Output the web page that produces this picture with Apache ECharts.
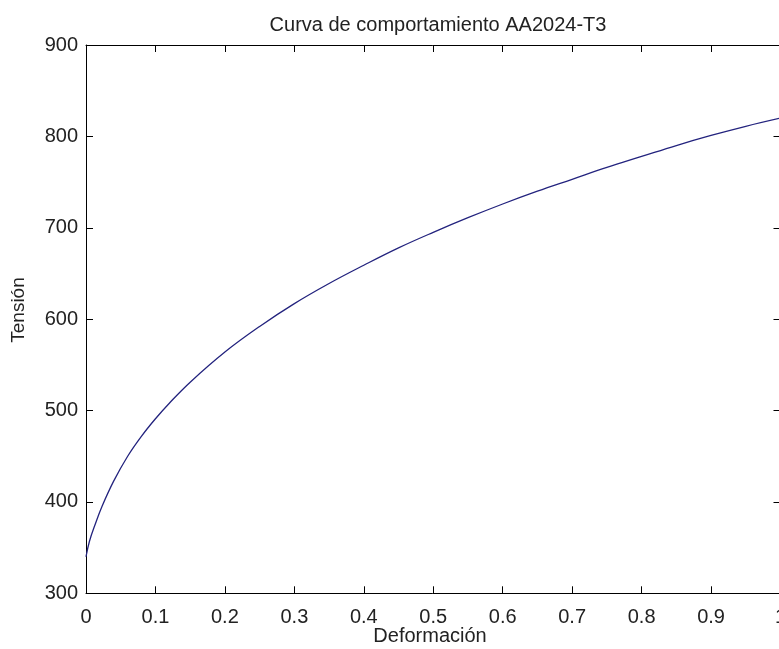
<!DOCTYPE html>
<html>
<head>
<meta charset="utf-8">
<script src="https://cdn.jsdelivr.net/npm/echarts@6/dist/echarts.min.js"></script>
<style>
html,body{margin:0;padding:0;background:#fff;}
#chart{width:779px;height:649px;}
</style>
</head>
<body>
<div id="chart"></div>
<script>
// Data
var deformacion = [0, 0.005, 0.013, 0.023, 0.04, 0.06, 0.08, 0.1, 0.12, 0.15, 0.2, 0.25, 0.3, 0.35, 0.4, 0.45, 0.5, 0.55, 0.6, 0.65, 0.7, 0.75, 0.8, 0.85, 0.9, 0.95, 1];
var tension     = [340, 357, 375, 395, 423, 450, 472, 491, 508, 531, 564, 592, 617, 639, 659, 678, 695, 711, 726, 740, 753, 766, 778, 790, 801, 811, 820];
var xTickLabels = ['0', '0.1', '0.2', '0.3', '0.4', '0.5', '0.6', '0.7', '0.8', '0.9', '1'];
var yTickLabels = ['300', '400', '500', '600', '700', '800', '900'];
var titleText = 'Curva de comportamiento AA2024-T3';
var xName = 'Deformación';
var yName = 'Tensión';

var FONT = '"Liberation Sans", Arial, Helvetica, sans-serif';
var TXT = '#222222';

var points = deformacion.map(function (e, i) { return [e, tension[i]]; });

function xFmt(v) {
  var idx = Math.round(v * 10);
  return xTickLabels[idx] !== undefined ? xTickLabels[idx] : '';
}
function yFmt(v) {
  var idx = Math.round((v - 300) / 100);
  return yTickLabels[idx] !== undefined ? yTickLabels[idx] : '';
}

var axisCommon = {
  type: 'value',
  axisLine: { show: true, onZero: false, lineStyle: { color: '#000', width: 1 } },
  axisTick: { show: true, inside: true, length: 7, lineStyle: { color: '#000', width: 1 } },
  splitLine: { show: false }
};

var chart = echarts.init(document.getElementById('chart'), null, { renderer: 'canvas' });
chart.setOption({
  animation: false,
  backgroundColor: '#ffffff',
  title: {
    text: titleText,
    left: 433,
    top: 10,
    textAlign: 'center',
    textStyle: { fontFamily: FONT, fontSize: 20, fontWeight: 'normal', color: TXT }
  },
  grid: { left: 86, top: 45, width: 694.5, height: 548.3, containLabel: false, outerBoundsMode: 'none' },
  xAxis: [
    Object.assign({}, axisCommon, {
      position: 'bottom', min: 0, max: 1, interval: 0.1,
      axisLabel: { show: true, margin: 14, formatter: xFmt, fontFamily: FONT, fontSize: 20, color: TXT, showMaxLabel: true, showMinLabel: true, hideOverlap: false }
    }),
    Object.assign({}, axisCommon, {
      position: 'top', min: 0, max: 1, interval: 0.1,
      axisLabel: { show: false }
    })
  ],
  yAxis: [
    Object.assign({}, axisCommon, {
      position: 'left', min: 300, max: 900, interval: 100,
      axisLabel: { show: true, margin: 8, formatter: yFmt, fontFamily: FONT, fontSize: 20, color: TXT, showMaxLabel: true, showMinLabel: true, hideOverlap: false }
    }),
    Object.assign({}, axisCommon, {
      position: 'right', min: 300, max: 900, interval: 100,
      axisLabel: { show: false }
    })
  ],
  graphic: [
    {
      type: 'text',
      position: [430, 636],
      style: { text: xName, textAlign: 'center', textVerticalAlign: 'middle', font: '20px ' + FONT, fill: TXT }
    },
    {
      type: 'text',
      position: [19, 310], rotation: Math.PI / 2,
      style: { text: yName, textAlign: 'center', textVerticalAlign: 'middle', font: '19px ' + FONT, fill: TXT }
    }
  ],
  series: [{
    type: 'line',
    xAxisIndex: 0, yAxisIndex: 0,
    data: points,
    smooth: 0.4,
    showSymbol: false,
    lineStyle: { color: '#23237e', width: 1.3 }
  }]
});
</script>
</body>
</html>
